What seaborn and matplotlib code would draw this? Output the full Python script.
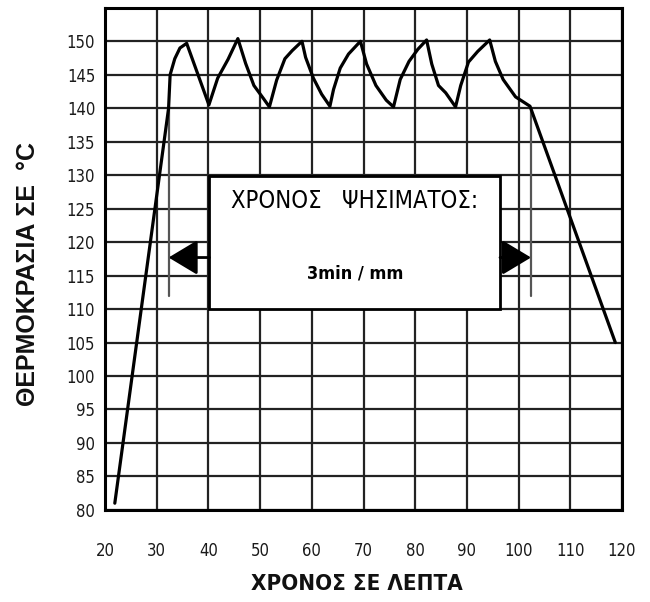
import matplotlib
matplotlib.use("Agg")
import matplotlib.pyplot as plt
import seaborn as sns
import pandas as pd
from matplotlib.patches import Rectangle
from matplotlib.font_manager import FontProperties

# curve (time in minutes, temperature in C)
time_min = [21.9, 31.6, 32.3, 32.6, 33.5, 34.5, 35.8, 40.1, 41.8, 43.8, 45.7, 47.2, 48.8,
            50.6, 51.8, 53.2, 54.8, 56.2, 58.1, 58.8, 60.3, 61.9, 63.5, 64.2, 65.5, 67.1,
            69.4, 70.6, 72.4, 74.4, 75.8, 77.1, 78.8, 80.5, 82.2, 83.2, 84.5, 85.9, 87.8,
            88.8, 90.3, 92.1, 94.4, 95.5, 97.0, 99.4, 102.2, 118.7]
temp_c = [81, 136, 140, 145, 147.4, 149, 149.7, 140.5, 144.5, 147.3, 150.4, 146.7, 143.4,
          141.5, 140.2, 144.2, 147.4, 148.6, 150, 147.6, 144.5, 142.1, 140.3, 142.8, 146, 148.1,
          150, 146.6, 143.4, 141.2, 140.2, 144.3, 147, 148.8, 150.2, 146.6, 143.4, 142.3, 140.2,
          143.4, 146.9, 148.5, 150.2, 147, 144.3, 141.7, 140.3, 105]

x_ticks = [20, 30, 40, 50, 60, 70, 80, 90, 100, 110, 120]
y_ticks = [80, 85, 90, 95, 100, 105, 110, 115, 120, 125, 130, 135, 140, 145, 150]

# roasting time marker (start / end) and box
roast_start, roast_end = 32.3, 102.4
marker_low, marker_high = 112, 140
arrow_level = 117.7
box_x0, box_x1 = 40.2, 96.4
box_y0, box_y1 = 110, 129.9
box_title = "ΧΡΟΝΟΣ   ΨΗΣΙΜΑΤΟΣ:"
box_text = "3min / mm"

df = pd.DataFrame({"time": time_min, "temp": temp_c})

sns.set_style("white")
plt.rcParams['font.family'] = ['DejaVu Sans']
plt.rcParams['font.stretch'] = 'condensed'

fig = plt.figure(figsize=(6.5, 6.02), dpi=100)
ax = fig.add_axes([0.1615, 0.153, 0.7955, 0.834])

sns.lineplot(data=df, x="time", y="temp", sort=False, estimator=None,
             color="black", linewidth=2.3, ax=ax, zorder=5)

ax.set_xlim(20, 120)
ax.set_ylim(80, 155)
ax.set_xticks(x_ticks)
ax.set_yticks(y_ticks)
ax.set_yticks([155], minor=True)
ax.grid(True, which="both", color="#222222", linewidth=1.6)
ax.set_axisbelow(True)
for s in ax.spines.values():
    s.set_color("black")
    s.set_linewidth(2.2)
ax.tick_params(axis="both", length=0, labelsize=12, colors="#1a1a1a")
ax.tick_params(axis="x", pad=23)
ax.tick_params(axis="y", pad=7)

ax.set_xlabel("ΧΡΟΝΟΣ ΣΕ ΛΕΠΤΑ", fontsize=16, fontweight="bold", color="#111111")
ylab_font = FontProperties(family="Liberation Sans", weight="bold", stretch="normal", size=18)
ax.set_ylabel("ΘΕΡΜΟΚΡΑΣΙΑ ΣΕ  °C", fontproperties=ylab_font, color="#111111")
ax.yaxis.set_label_coords(-0.126, 0.47)
ax.xaxis.set_label_coords(0.488, -0.128)

# marker lines
for xv in [roast_start, roast_end]:
    ax.plot([xv, xv], [marker_low, marker_high], color="#555555", linewidth=1.6, zorder=4)

# box with text
ax.add_patch(Rectangle((box_x0, box_y0), box_x1 - box_x0, box_y1 - box_y0,
                       facecolor="white", edgecolor="black", linewidth=2, zorder=6))
xc = (box_x0 + box_x1) / 2
ax.text(xc, 126.2, box_title, ha="center", va="center", fontsize=17, color="black", zorder=7)
ax.text(xc, 115.3, box_text, ha="center", va="center", fontsize=13, fontweight="bold",
        color="black", zorder=7)

arrow_style = dict(arrowstyle="-|>,head_length=1.0,head_width=0.6", mutation_scale=18,
                   color="black", linewidth=2, shrinkA=0, shrinkB=0)
ax.annotate("", xy=(roast_start, arrow_level), xytext=(box_x0, arrow_level),
            arrowprops=arrow_style, zorder=7)
ax.annotate("", xy=(roast_end, arrow_level), xytext=(box_x1, arrow_level),
            arrowprops=arrow_style, zorder=7)

fig.savefig("out.png", dpi=100)
